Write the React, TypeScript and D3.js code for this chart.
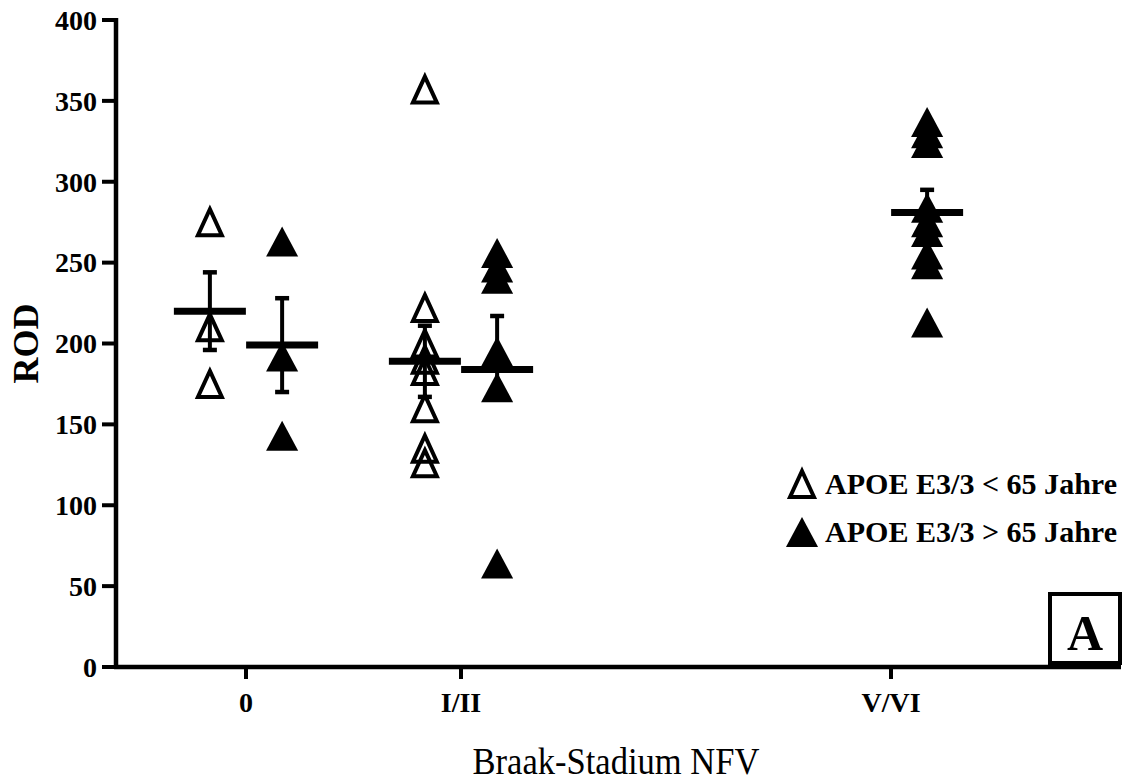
import React from "react";
import * as d3 from "d3";

// Braak stages on the x axis (III/IV has no group, so V/VI sits at position 3)
const stages = ["0", "I/II", "V/VI"];
const stagePos = [0, 1, 3];

// ROD values per stage
const youngValues = [
  [275, 210, 175],
  [357, 222, 200, 190, 183, 160, 135, 126],
  [],
];
const oldValues = [
  [263, 192, 143],
  [256, 247, 240, 195, 173, 64],
  [337, 330, 324, 284, 275, 269, 255, 249, 213],
];

// mean and SEM bars (upper / lower ends as drawn)
const youngMean = [220, 189, null];
const youngErrUp = [24, 22, null];
const youngErrDown = [24, 22, null];
const oldMean = [199, 184, 281];
const oldErrUp = [29, 33, 14];
const oldErrDown = [29, 12, 14];

const yTicks = [0, 50, 100, 150, 200, 250, 300, 350, 400];
const legendLabels = ["APOE E3/3 < 65 Jahre", "APOE E3/3 > 65 Jahre"];

const FONT = "'Liberation Serif', 'Times New Roman', serif";

// triangle symbol, centred on its bounding box; ratio = width / height
const triangle = (ratio) => ({
  draw(ctx, size) {
    const h = Math.sqrt(size);
    const w = h * ratio;
    ctx.moveTo(0, -h / 2);
    ctx.lineTo(w / 2, h / 2);
    ctx.lineTo(-w / 2, h / 2);
    ctx.closePath();
  },
});

const openTri = d3.symbol(triangle(0.92), 26 * 26)();
const filledTri = d3.symbol(triangle(1.07), 30 * 30)();

const App = () => {
  const width = 1125;
  const height = 781;

  const xScale = d3.scaleLinear().domain([0, 3]).range([246, 891]);
  const yScale = d3.scaleLinear().domain([0, 400]).range([667, 20]);

  const off = 0.168; // side offset of the two age groups
  const meanHalf = 36;
  const capHalf = 7;

  const axisLeft = 116;
  const axisRight = 1121;

  const groups = [
    { vals: youngValues, mean: youngMean, up: youngErrUp, down: youngErrDown, dx: -off, open: true },
    { vals: oldValues, mean: oldMean, up: oldErrUp, down: oldErrDown, dx: off, open: false },
  ];

  return (
    <div>
      <style>{`body{margin:0}`}</style>
      <svg width={width} height={height} style={{ display: "block", background: "#fff" }}>
        {/* Y axis */}
        <line x1={axisLeft} y1={yScale(400) - 2} x2={axisLeft} y2={yScale(0) + 2} stroke="#000" strokeWidth={4.5} />
        {yTicks.map((t) => (
          <g key={t} transform={`translate(${axisLeft}, ${yScale(t)})`}>
            <line x1={-14} x2={0} stroke="#000" strokeWidth={4} />
            <text
              x={-19}
              dy="0.35em"
              textAnchor="end"
              fontFamily={FONT}
              fontWeight="bold"
              fontSize={28}
              fill="#000"
            >
              {t}
            </text>
          </g>
        ))}
        <text
          transform={`translate(38, ${yScale(200)}) rotate(-90)`}
          textAnchor="middle"
          fontFamily={FONT}
          fontWeight="bold"
          fontSize={36}
          fill="#000"
        >
          ROD
        </text>

        {/* X axis */}
        <line x1={axisLeft - 2} y1={yScale(0)} x2={axisRight} y2={yScale(0)} stroke="#000" strokeWidth={4.5} />
        {stages.map((s, i) => (
          <g key={s} transform={`translate(${xScale(stagePos[i])}, ${yScale(0)})`}>
            <line y1={0} y2={12} stroke="#000" strokeWidth={4} />
            <text
              y={45}
              textAnchor="middle"
              fontFamily={FONT}
              fontWeight="bold"
              fontSize={28}
              fill="#000"
            >
              {s}
            </text>
          </g>
        ))}
        <text
          x={616}
          y={774}
          textAnchor="middle"
          fontFamily={FONT}
          fontSize={37}
          textLength={287}
          lengthAdjust="spacingAndGlyphs"
          fill="#000"
        >
          Braak-Stadium NFV
        </text>

        {/* Points */}
        {groups.map((g, gi) =>
          g.vals.map((vals, i) =>
            vals.map((v, j) => (
              <path
                key={`${gi}-${i}-${j}`}
                d={g.open ? openTri : filledTri}
                transform={`translate(${xScale(stagePos[i] + g.dx)}, ${yScale(v)})`}
                fill={g.open ? "none" : "#000"}
                stroke="#000"
                strokeWidth={g.open ? 4 : 0}
                strokeLinejoin="miter"
              />
            ))
          )
        )}

        {/* Mean and SEM */}
        {groups.map((g, gi) =>
          g.mean.map((m, i) => {
            if (m == null) return null;
            const cx = xScale(stagePos[i] + g.dx);
            const top = yScale(m + g.up[i]);
            const bot = yScale(m - g.down[i]);
            return (
              <g key={`m-${gi}-${i}`} stroke="#000">
                <line x1={cx} x2={cx} y1={top} y2={bot} strokeWidth={4} />
                <line x1={cx - capHalf} x2={cx + capHalf} y1={top} y2={top} strokeWidth={4.5} />
                <line x1={cx - capHalf} x2={cx + capHalf} y1={bot} y2={bot} strokeWidth={4.5} />
                <line x1={cx - meanHalf} x2={cx + meanHalf} y1={yScale(m)} y2={yScale(m)} strokeWidth={7} />
              </g>
            );
          })
        )}

        {/* Legend */}
        {legendLabels.map((label, i) => (
          <g key={label} transform={`translate(802, ${484 + i * 48})`}>
            <path
              d={i === 0 ? openTri : filledTri}
              fill={i === 0 ? "none" : "#000"}
              stroke="#000"
              strokeWidth={i === 0 ? 4 : 0}
            />
            <text
              x={23}
              y={10}
              fontFamily={FONT}
              fontWeight="bold"
              fontSize={29}
              textLength={292}
              lengthAdjust="spacingAndGlyphs"
              fill="#000"
            >
              {label}
            </text>
          </g>
        ))}

        {/* Panel letter */}
        <rect x={1050} y={594} width={70} height={69} fill="#fff" stroke="#000" strokeWidth={4} />
        <text x={1085} y={650} textAnchor="middle" fontFamily={FONT} fontWeight="bold" fontSize={50} fill="#000">
          A
        </text>
      </svg>
    </div>
  );
};

export default App;
